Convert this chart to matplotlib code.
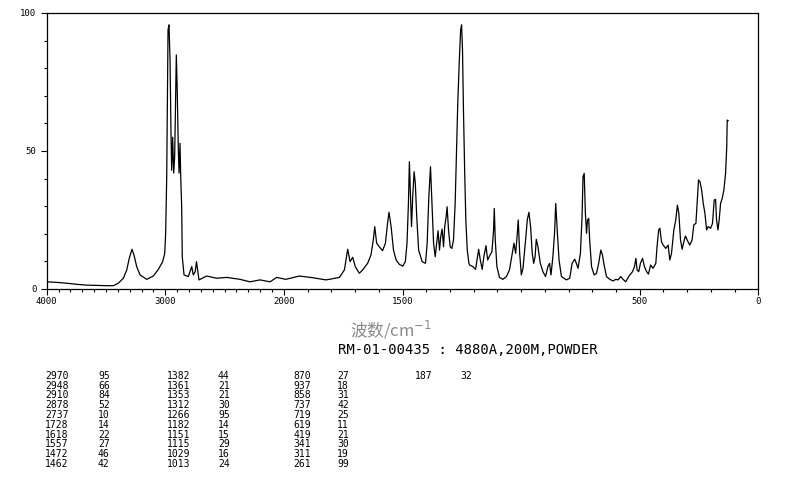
import numpy as np
import matplotlib
matplotlib.use("Agg")
import matplotlib.pyplot as plt

# ---- data (Raman shift cm-1, intensity) ----
wavenumber = [4000, 3916, 3831, 3747, 3663, 3578, 3494, 3438, 3396, 3354, 3325, 3304,
              3281, 3264, 3241, 3213, 3157, 3101, 3059, 3022, 3005, 2997, 2988, 2977,
              2969, 2960, 2952, 2946, 2938, 2929, 2921, 2912, 2907, 2899, 2890, 2884,
              2876, 2870, 2862, 2857, 2842, 2806, 2777, 2764, 2748, 2737, 2716, 2707,
              2651, 2567, 2482, 2370, 2286, 2201, 2117, 2061,
              1992, 1935, 1879, 1823, 1809, 1766, 1745, 1731, 1721, 1710, 1699, 1682,
              1668, 1647, 1633, 1623, 1617, 1609, 1598, 1584, 1572, 1563, 1557, 1548,
              1538, 1527, 1513, 1499, 1488, 1481, 1475, 1471, 1467, 1462, 1457, 1451,
              1446, 1440, 1432, 1417, 1403, 1396, 1389, 1382, 1377, 1369, 1362, 1356,
              1350, 1344, 1339, 1333, 1327, 1322, 1316, 1312, 1306, 1299, 1292, 1285,
              1278, 1272, 1267, 1261, 1255, 1251, 1247, 1243, 1238, 1233, 1227, 1220,
              1217, 1203, 1192, 1184, 1179, 1172, 1164, 1157, 1148, 1141, 1133, 1123,
              1116, 1113, 1109, 1102, 1091, 1077, 1062, 1049, 1037, 1030, 1023, 1018,
              1012, 1006, 999, 992, 981, 974, 967, 960, 953, 947, 941, 936,
              929, 919, 908, 897, 887, 880, 874, 866, 859, 854, 847, 840,
              830, 809, 795, 785, 774, 767, 760, 750, 743, 739, 734, 729,
              724, 720, 715, 711, 703, 692, 682, 673, 664, 657, 650, 640,
              626, 612, 601, 591, 580, 570, 559, 545, 530, 522, 516, 511,
              504, 497, 488, 480, 471, 463, 454, 444, 432, 427, 420, 415,
              408, 401, 390, 380, 373, 366, 356, 348, 341, 335, 328, 321,
              314, 307, 300, 289, 279, 272, 263, 258, 252, 246, 239, 232,
              225, 218, 211, 201, 193, 186, 180, 176, 170, 165, 159, 152,
              145, 138, 133, 131, 127]
intensity = [2.6, 2.4, 2.1, 1.7, 1.4, 1.3, 1.2, 1.2, 2.1, 3.9, 6.9, 11.1,
             14.4, 12.3, 8.1, 5.1, 3.5, 4.7, 7.1, 9.9, 12.9, 20.2, 40.7, 93.8,
             95.7, 83.0, 56.5, 43.0, 55.0, 42.0, 48.0, 73.0, 84.8, 71.0, 50.0, 42.0,
             52.8, 40.7, 29.8, 11.7, 5.1, 4.5, 8.1, 5.1, 6.3, 9.9, 3.3, 3.5,
             4.7, 3.9, 4.2, 3.5, 2.6, 3.3, 2.6, 4.2,
             3.5, 4.7, 4.1, 3.3, 3.5, 4.2, 6.9, 14.4, 9.9, 11.5, 8.1, 5.7,
             6.9, 9.3, 12.3, 17.8, 22.6, 16.6, 15.3, 13.9, 16.6, 23.8, 27.8, 22.6,
             14.1, 10.5, 8.9, 8.3, 9.9, 16.6, 31.0, 46.1, 35.9, 22.6, 33.4, 42.5,
             38.3, 26.2, 14.1, 9.9, 9.3, 16.6, 33.4, 44.3, 33.4, 16.6, 11.7, 16.6,
             21.1, 14.1, 18.9, 21.7, 15.3, 22.6, 26.2, 29.8, 21.4, 15.3, 14.7, 17.8,
             31.0, 50.4, 67.3, 81.8, 93.8, 95.7, 86.6, 64.9, 43.1, 25.0, 14.1, 9.3,
             8.7, 8.1, 7.1, 11.7, 14.4, 10.5, 7.1, 11.7, 15.7, 10.5, 12.0, 13.5,
             21.4, 29.2, 17.8, 8.1, 4.2, 3.5, 4.5, 6.9, 12.9, 16.6, 12.9, 17.8,
             25.0, 12.9, 5.1, 7.5, 17.8, 25.0, 27.8, 22.6, 12.9, 9.3, 11.7, 18.0,
             15.3, 9.3, 6.3, 4.5, 8.1, 9.3, 5.1, 11.7, 20.2, 31.0, 20.2, 10.5,
             4.5, 3.3, 3.9, 9.3, 10.8, 9.3, 7.5, 12.9, 26.2, 40.7, 41.9, 27.4,
             20.2, 25.0, 25.6, 17.8, 8.1, 5.1, 5.7, 9.3, 14.1, 12.3, 8.7, 4.5,
             3.5, 2.9, 3.5, 3.3, 4.5, 3.5, 2.6, 4.7, 6.3, 8.1, 11.1, 6.9,
             6.3, 9.3, 11.1, 8.1, 6.3, 5.4, 8.7, 7.5, 9.3, 15.3, 21.4, 22.0,
             17.1, 15.9, 14.7, 15.9, 10.5, 12.9, 21.4, 25.0, 30.4, 27.4, 17.8, 14.4,
             17.1, 19.2, 17.8, 15.9, 17.8, 23.2, 23.8, 31.0, 39.5, 38.9, 35.9, 31.0,
             27.4, 21.4, 22.6, 22.0, 23.8, 32.2, 32.5, 25.0, 21.4, 25.0, 31.0, 32.9,
             35.9, 41.9, 51.6, 61.2, 61.0]

x_major = [4000, 3000, 2000, 1500, 500, 0]
x_major_labels = ["4000", "3000", "2000", "1500", "500", "0"]
y_major = [0, 50, 100]
y_major_labels = ["0", "50", "100"]

peak_cols = [
    (["2970", "2948", "2910", "2878", "2737", "1728", "1618", "1557", "1472", "1462"],
     ["95", "66", "84", "52", "10", "14", "22", "27", "46", "42"]),
    (["1382", "1361", "1353", "1312", "1266", "1182", "1151", "1115", "1029", "1013"],
     ["44", "21", "21", "30", "95", "14", "15", "29", "16", "24"]),
    (["870", "937", "858", "737", "719", "619", "419", "341", "311", "261"],
     ["27", "18", "31", "42", "25", "11", "21", "30", "19", "99"]),
    (["187"], ["32"]),
]

title_text = "RM-01-00435 : 4880A,200M,POWDER"
xlabel_text = "波数/cm$^{-1}$"

# ---- figure ----
W, H = 794, 482
fig = plt.figure(figsize=(W / 100, H / 100), dpi=100)
ax = fig.add_axes([46.7 / W, 1 - 289 / H, (758.3 - 46.7) / W, 276 / H])


def fwd(w):
    w = np.asarray(w, dtype=float)
    return np.where(w > 2000, 2000 + (w - 2000) / 2.0, w)


def inv(t):
    t = np.asarray(t, dtype=float)
    return np.where(t > 2000, 2000 + (t - 2000) * 2.0, t)


ax.set_xscale('function', functions=(fwd, inv))
ax.plot(wavenumber, intensity, color='black', lw=0.9)
ax.set_xlim(4000, 0)
ax.set_ylim(0, 100)

mono = 'DejaVu Sans Mono'
ax.set_xticks(x_major)
ax.set_xticklabels(x_major_labels, fontfamily=mono, fontsize=6.5)
ax.set_xticks([v for v in range(0, 4001, 100) if v not in x_major], minor=True)
ax.set_yticks(y_major)
ax.set_yticklabels(y_major_labels, fontfamily=mono, fontsize=6.5)
ax.set_yticks(range(0, 101, 10), minor=True)
ax.tick_params(axis='both', which='major', direction='out', length=4.5, width=0.8, pad=1.5)
ax.tick_params(axis='both', which='minor', direction='out', length=2.2, width=0.8)
ax.tick_params(axis='y', which='major', pad=3)
for s in ax.spines.values():
    s.set_linewidth(0.9)

# axis label and title
fig.text(391 / W, 1 - 330 / H, xlabel_text, ha='center', va='center', fontsize=12,
         color='#8a8a8a', fontfamily=['Noto Sans CJK SC', 'DejaVu Sans'])
fig.text(338 / W, 1 - 350 / H, title_text, ha='left', va='center', fontsize=10,
         fontfamily=mono, color='black')

# peak table
col_x = [(45, 98), (167, 218), (293, 337), (415, 460)]
for (xa, xb), (wn, it) in zip(col_x, peak_cols):
    for i, (a, b) in enumerate(zip(wn, it)):
        yy = 1 - (375.7 + i * 9.81) / H
        fig.text(xa / W, yy, a, ha='left', va='center', fontsize=7, fontfamily=mono)
        fig.text(xb / W, yy, b, ha='left', va='center', fontsize=7, fontfamily=mono)

fig.savefig('out.png', dpi=100)
